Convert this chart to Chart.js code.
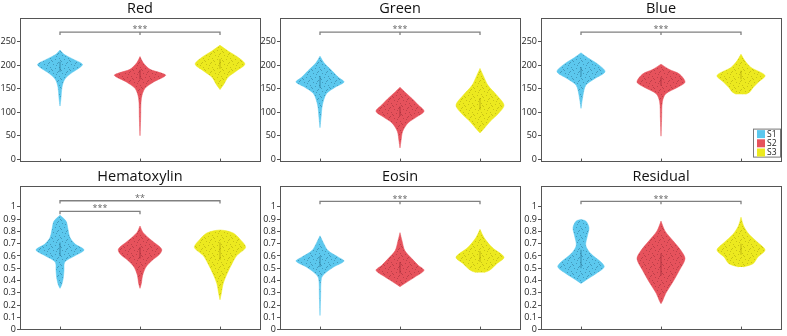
<!DOCTYPE html>
<html>
<head>
<meta charset="utf-8">
<script src="https://cdn.jsdelivr.net/npm/chart.js@4.4.1/dist/chart.umd.min.js"></script>
<style>
  body { margin: 0; background: #fff; width: 787px; height: 336px; overflow: hidden; position: relative; }
  canvas { position: absolute; }
</style>
</head>
<body>
<canvas id="c_red" width="284" height="168" style="left:-2px;top:0px"></canvas>
<canvas id="c_green" width="284" height="168" style="left:258px;top:0px"></canvas>
<canvas id="c_blue" width="284" height="168" style="left:519px;top:0px"></canvas>
<canvas id="c_hema" width="284" height="168" style="left:-2px;top:168px"></canvas>
<canvas id="c_eosin" width="284" height="168" style="left:258px;top:168px"></canvas>
<canvas id="c_resid" width="284" height="168" style="left:519px;top:168px"></canvas>
<script>
// groups and colours
const groups = ["S1", "S2", "S3"];
const groupColors = ["#5cc8ee", "#e6525c", "#ece91f"];
const speckColors = ["rgba(20,70,100,0.35)", "rgba(100,20,30,0.3)", "rgba(120,110,0,0.3)"];
const iqrColors = ["rgba(30,100,130,0.4)", "rgba(130,30,40,0.35)", "rgba(150,140,0,0.35)"];

// tick labels
const rgbTicks = [0, 50, 100, 150, 200, 250];
const fracTicks = [0, 0.1, 0.2, 0.3, 0.4, 0.5, 0.6, 0.7, 0.8, 0.9, 1];

// violin outlines: value levels (bottom -> top) and half widths (category units)
const redLevels = [
  [113, 129, 153, 170, 184, 195, 202, 212, 223, 232],
  [50, 87, 129, 150, 164, 178, 184, 191, 205, 218],
  [148, 160, 174, 188, 202, 216, 230, 242]
];
const redWidths = [
  [0, 0.012, 0.025, 0.06, 0.15, 0.25, 0.28, 0.17, 0.05, 0],
  [0, 0.008, 0.017, 0.06, 0.17, 0.32, 0.25, 0.125, 0.04, 0],
  [0, 0.05, 0.1, 0.21, 0.31, 0.23, 0.1, 0]
];
const redIqr = [[186, 207], [170, 190], [192, 213]];
const redSig = [[1, 3, 270, "***"]];

const greenLevels = [
  [67, 87, 115, 139, 153, 164, 174, 188, 205, 219],
  [24, 38, 59, 77, 90, 102, 115, 129, 143, 153],
  [56, 63, 80, 97, 115, 136, 157, 178, 193]
];
const greenWidths = [
  [0, 0.012, 0.03, 0.08, 0.19, 0.3, 0.23, 0.15, 0.05, 0],
  [0, 0.012, 0.033, 0.1, 0.21, 0.3, 0.23, 0.15, 0.06, 0],
  [0, 0.04, 0.125, 0.23, 0.3, 0.21, 0.1, 0.04, 0]
];
const greenIqr = [[152, 177], [92, 112], [105, 130]];
const greenSig = [[1, 3, 270, "***"]];

const blueLevels = [
  [108, 136, 157, 171, 186, 202, 216, 226],
  [49, 87, 122, 139, 153, 164, 181, 191, 202],
  [138, 143, 152, 164, 178, 195, 209, 223]
];
const blueWidths = [
  [0, 0.025, 0.06, 0.17, 0.3, 0.21, 0.08, 0],
  [0, 0.008, 0.017, 0.06, 0.21, 0.3, 0.23, 0.1, 0],
  [0.06, 0.11, 0.15, 0.22, 0.3, 0.125, 0.05, 0]
];
const blueIqr = [[176, 196], [156, 174], [170, 188]];
const blueSig = [[1, 3, 270, "***"]];

const hemaLevels = [
  [0.336, 0.363, 0.417, 0.483, 0.55, 0.603, 0.649, 0.697, 0.75, 0.817, 0.884, 0.932],
  [0.336, 0.376, 0.443, 0.51, 0.563, 0.617, 0.657, 0.724, 0.79, 0.844],
  [0.243, 0.296, 0.376, 0.457, 0.537, 0.603, 0.67, 0.737, 0.785, 0.805, 0.812]
];
const hemaWidths = [
  [0, 0.02, 0.04, 0.05, 0.06, 0.19, 0.3, 0.19, 0.125, 0.1, 0.075, 0],
  [0, 0.017, 0.033, 0.075, 0.15, 0.25, 0.27, 0.15, 0.04, 0],
  [0, 0.017, 0.04, 0.09, 0.15, 0.21, 0.32, 0.25, 0.17, 0.08, 0]
];
const hemaIqr = [[0.6, 0.71], [0.58, 0.67], [0.57, 0.71]];
const hemaSig = [[1, 3, 1.05, "**"], [1, 2, 0.964, "***"]];

const eosinLevels = [
  [0.115, 0.27, 0.417, 0.457, 0.51, 0.558, 0.59, 0.644, 0.71, 0.764],
  [0.35, 0.376, 0.43, 0.483, 0.523, 0.577, 0.644, 0.724, 0.79],
  [0.465, 0.483, 0.537, 0.59, 0.67, 0.75, 0.817]
];
const eosinWidths = [
  [0, 0.008, 0.017, 0.06, 0.17, 0.3, 0.23, 0.1, 0.04, 0],
  [0, 0.06, 0.19, 0.3, 0.23, 0.15, 0.06, 0.025, 0],
  [0.05, 0.12, 0.21, 0.3, 0.15, 0.05, 0]
];
const eosinIqr = [[0.51, 0.6], [0.46, 0.55], [0.55, 0.64]];
const eosinSig = [[1, 3, 1.044, "***"]];

const residLevels = [
  [0.376, 0.403, 0.457, 0.51, 0.55, 0.617, 0.684, 0.764, 0.83, 0.884, 0.897],
  [0.211, 0.23, 0.296, 0.39, 0.483, 0.577, 0.644, 0.724, 0.804, 0.884],
  [0.51, 0.537, 0.59, 0.649, 0.71, 0.777, 0.844, 0.916]
];
const residWidths = [
  [0, 0.06, 0.19, 0.29, 0.25, 0.125, 0.06, 0.08, 0.1, 0.06, 0],
  [0, 0.017, 0.06, 0.15, 0.23, 0.3, 0.25, 0.15, 0.05, 0],
  [0.03, 0.15, 0.21, 0.3, 0.21, 0.1, 0.033, 0]
];
const residIqr = [[0.5, 0.65], [0.44, 0.62], [0.61, 0.7]];
const residSig = [[1, 3, 1.044, "***"]];

const panels = [
  { id: "c_red", title: "Red", levels: redLevels, widths: redWidths, iqr: redIqr, sig: redSig, ticks: rgbTicks, min: -5, max: 300 },
  { id: "c_green", title: "Green", levels: greenLevels, widths: greenWidths, iqr: greenIqr, sig: greenSig, ticks: rgbTicks, min: -5, max: 300 },
  { id: "c_blue", title: "Blue", levels: blueLevels, widths: blueWidths, iqr: blueIqr, sig: blueSig, ticks: rgbTicks, min: -5, max: 300, legend: true },
  { id: "c_hema", title: "Hematoxylin", levels: hemaLevels, widths: hemaWidths, iqr: hemaIqr, sig: hemaSig, ticks: fracTicks, min: 0, max: 1.17 },
  { id: "c_eosin", title: "Eosin", levels: eosinLevels, widths: eosinWidths, iqr: eosinIqr, sig: eosinSig, ticks: fracTicks, min: 0, max: 1.17 },
  { id: "c_resid", title: "Residual", levels: residLevels, widths: residWidths, iqr: residIqr, sig: residSig, ticks: fracTicks, min: 0, max: 1.17 }
];

const FONT = "'Open Sans', 'DejaVu Sans', sans-serif";
const AXIS = "#555";

// outline of one violin: up the right side, back down the left side
function violinPoints(center, levels, widths) {
  const right = levels.map((v, i) => ({ x: center + widths[i], y: v }));
  const left = levels.map((v, i) => ({ x: center - widths[i], y: v })).reverse();
  return right.concat(left);
}

// grainy fill like the scattered dots of the original
function speckle(ctx, base, dot) {
  const c = document.createElement("canvas");
  c.width = 9;
  c.height = 9;
  const t = c.getContext("2d");
  t.fillStyle = base;
  t.fillRect(0, 0, 9, 9);
  t.fillStyle = dot;
  [[1, 1], [5, 0], [7, 4], [3, 5], [0, 7], [6, 8], [4, 2], [8, 6]].forEach((d) => t.fillRect(d[0], d[1], 1, 1));
  return ctx.createPattern(c, "repeat");
}

// "***" text over the brackets
const sigLabels = {
  id: "sigLabels",
  afterDatasetsDraw(chart, args, opts) {
    const { ctx, scales } = chart;
    ctx.save();
    ctx.font = "9px " + FONT;
    ctx.fillStyle = "#666";
    ctx.textAlign = "center";
    ctx.textBaseline = "bottom";
    (opts.items || []).forEach((s) => {
      const x = scales.x.getPixelForValue((s[0] + s[1]) / 2);
      const y = scales.y.getPixelForValue(s[2]);
      ctx.fillText(s[3], x, y + 2);
    });
    ctx.restore();
  }
};

// small boxed legend in the corner
const cornerLegend = {
  id: "cornerLegend",
  afterDraw(chart, args, opts) {
    if (!opts.show) return;
    const { ctx, chartArea: a } = chart;
    const w = 28, h = 29;
    const left = a.right - w, top = a.bottom - h - 4;
    ctx.save();
    ctx.fillStyle = "#fff";
    ctx.fillRect(left, top, w, h);
    ctx.strokeStyle = "#777";
    ctx.lineWidth = 1;
    ctx.strokeRect(left + 0.5, top + 0.5, w - 1, h - 1);
    ctx.font = "8.5px " + FONT;
    ctx.textBaseline = "middle";
    groups.forEach((g, i) => {
      const cy = top + 5.5 + i * 9.2;
      ctx.fillStyle = groupColors[i];
      ctx.fillRect(left + 4, cy - 4, 8, 8);
      ctx.fillStyle = "#222";
      ctx.fillText(g, left + 14, cy);
    });
    ctx.restore();
  }
};

function makeChart(p) {
  const ctx = document.getElementById(p.id).getContext("2d");
  const datasets = [];
  for (let g = 0; g < 3; g++) {
    datasets.push({
      label: groups[g],
      data: violinPoints(g + 1, p.levels[g], p.widths[g]),
      backgroundColor: speckle(ctx, groupColors[g], speckColors[g]),
      borderColor: groupColors[g],
      borderWidth: 0.5,
      pointRadius: 0,
      fill: "shape",
      tension: 0.3,
      order: 2
    });
    datasets.push({
      data: [{ x: g + 1, y: p.iqr[g][0] }, { x: g + 1, y: p.iqr[g][1] }],
      borderColor: iqrColors[g],
      borderWidth: 1.5,
      pointRadius: 0,
      fill: false,
      order: 1
    });
  }
  const drop = (p.max - p.min) * 0.02;
  p.sig.forEach((s) => {
    const a = s[0], b = s[1], level = s[2];
    const pts = [
      { x: a, y: level - drop }, { x: a, y: level },
      { x: b, y: level }, { x: b, y: level - drop }
    ];
    if (b - a > 1 && s[3] === "***") {
      pts.push({ x: (a + b) / 2, y: null }, { x: (a + b) / 2, y: level }, { x: (a + b) / 2, y: level - drop });
    }
    datasets.push({
      data: pts,
      borderColor: "#808080",
      borderWidth: 1.3,
      pointRadius: 0,
      fill: false,
      tension: 0,
      spanGaps: false,
      order: 0
    });
  });

  return new Chart(ctx, {
    type: "line",
    data: { datasets: datasets },
    options: {
      responsive: false,
      animation: false,
      layout: { padding: 0 },
      plugins: {
        legend: { display: false },
        tooltip: { enabled: false },
        title: {
          display: true,
          text: p.title,
          color: "#111",
          padding: 0,
          font: { family: FONT, size: 14.5, weight: "normal", lineHeight: "18px" }
        },
        sigLabels: { items: p.sig },
        cornerLegend: { show: !!p.legend }
      },
      scales: {
        x: {
          type: "linear",
          position: "bottom",
          min: 0.5,
          max: 3.5,
          afterBuildTicks: (s) => { s.ticks = [1, 2, 3].map((v) => ({ value: v })); },
          afterFit: (s) => { s.height = 4; },
          ticks: { display: false },
          grid: { drawOnChartArea: false, tickLength: -3, color: AXIS },
          border: { color: AXIS, width: 1 }
        },
        x2: {
          type: "linear",
          position: "top",
          min: 0.5,
          max: 3.5,
          afterFit: (s) => { s.height = 0; },
          ticks: { display: false },
          grid: { drawOnChartArea: false, drawTicks: false },
          border: { color: AXIS, width: 1 }
        },
        y: {
          position: "left",
          min: p.min,
          max: p.max,
          afterBuildTicks: (s) => { s.ticks = p.ticks.map((v) => ({ value: v })); },
          afterFit: (s) => { s.width = 22; },
          ticks: {
            autoSkip: false,
            padding: 1,
            color: "#222",
            font: { family: FONT, size: 9 },
            callback: (v) => String(v)
          },
          grid: { drawOnChartArea: false, tickLength: 3, color: AXIS },
          border: { color: AXIS, width: 1 }
        },
        y2: {
          position: "right",
          min: p.min,
          max: p.max,
          afterFit: (s) => { s.width = 22; },
          ticks: { display: false },
          grid: { drawOnChartArea: false, drawTicks: false },
          border: { color: AXIS, width: 1 }
        }
      }
    },
    plugins: [sigLabels, cornerLegend]
  });
}

panels.forEach(makeChart);
</script>
</body>
</html>
